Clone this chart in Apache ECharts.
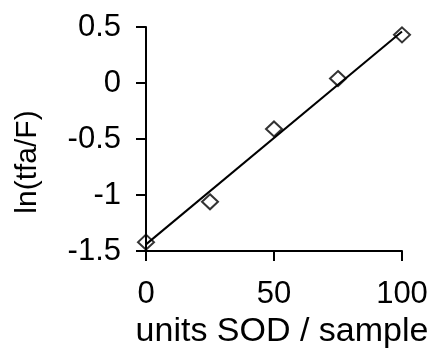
<!DOCTYPE html>
<html>
<head>
<meta charset="utf-8">
<script src="https://cdn.jsdelivr.net/npm/echarts@6/dist/echarts.min.js"></script>
<style>html,body{margin:0;padding:0;background:#fff;}#c{width:434px;height:354px;}</style>
</head>
<body>
<div id="c"></div>
<script>
// Data
const xValues = [0, 25, 50, 75, 100];
const yValues = [-1.42, -1.06, -0.41, 0.04, 0.43];
// Fitted line endpoints
const fitX = [0, 100];
const fitY = [-1.44, 0.46];
const xTicks = [0, 50, 100];
const yTicks = [-1.5, -1, -0.5, 0, 0.5];
const xTitle = 'units SOD / sample';
const yTitle = 'ln(tfa/F)';

const FONT = '"Liberation Sans", Arial, sans-serif';
const chart = echarts.init(document.getElementById('c'), null, {renderer: 'canvas'});
chart.setOption({
  animation: false,
  backgroundColor: '#fff',
  grid: {left: 146, right: 32, top: 27, bottom: 92},
  xAxis: {
    type: 'value',
    min: xTicks[0], max: xTicks[xTicks.length - 1], interval: 50,
    splitLine: {show: false},
    axisLine: {onZero: false, lineStyle: {color: '#000', width: 2}},
    axisTick: {show: true, inside: false, length: 10, lineStyle: {color: '#000', width: 2}},
    axisLabel: {color: '#000', fontFamily: FONT, fontSize: 31, margin: 28},
    name: xTitle,
    nameLocation: 'middle',
    nameGap: 53,
    nameTextStyle: {color: '#000', fontFamily: FONT, fontSize: 34, padding: [0, 0, 0, 16]}
  },
  yAxis: {
    type: 'value',
    min: yTicks[0], max: yTicks[yTicks.length - 1], interval: 0.5,
    splitLine: {show: false},
    axisLine: {onZero: false, lineStyle: {color: '#000', width: 2}},
    axisTick: {show: true, inside: false, length: 10, lineStyle: {color: '#000', width: 2}},
    axisLabel: {color: '#000', fontFamily: FONT, fontSize: 31, margin: 25}
  },
  graphic: [{
    type: 'text',
    x: 28, y: 162,
    rotation: Math.PI / 2,
    style: {text: yTitle, fill: '#000', font: '30px ' + FONT, align: 'center', verticalAlign: 'middle'}
  }],
  series: [{
    type: 'line',
    data: fitX.map((x, i) => [x, fitY[i]]),
    symbol: 'none',
    lineStyle: {color: '#000', width: 2},
    z: 2
  }, {
    type: 'scatter',
    data: xValues.map((x, i) => [x, yValues[i]]),
    symbol: 'diamond',
    symbolSize: [16, 15],
    itemStyle: {color: 'rgba(255,255,255,0)', borderColor: '#000', borderWidth: 2},
    z: 3
  }]
});
</script>
</body>
</html>
